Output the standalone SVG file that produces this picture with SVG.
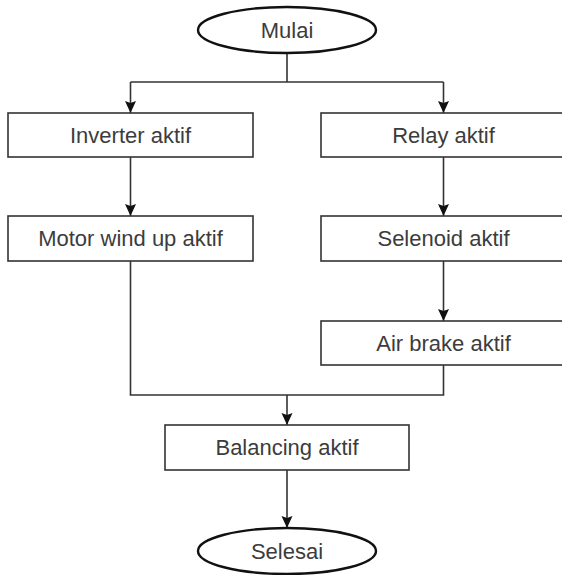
<svg xmlns="http://www.w3.org/2000/svg" width="562" height="575" viewBox="0 0 562 575">
<style>
.box{fill:#fff;stroke:#333;stroke-width:1.6}
.term{fill:#fff;stroke:#111;stroke-width:2.4}
.lbl{font-family:"Liberation Sans",Arial,sans-serif;font-size:22px;fill:#3c3c3c;text-anchor:middle}
.edge{fill:none;stroke:#333;stroke-width:1.6}
</style>
<defs>
<marker id="arr" markerUnits="userSpaceOnUse" markerWidth="12" markerHeight="12" viewBox="0 0 12 12" refX="12" refY="6" orient="auto">
<path d="M0,0.5 L12,6 L0,11.5 L2,6 Z" fill="#111"/>
</marker>
</defs>
<rect width="562" height="575" fill="#fff"/>
<g id="connectors">
<path class="edge" d="M287,53 V82"/>
<path class="edge" d="M130.5,82 H443.5"/>
<path class="edge" d="M130.5,82 V113" marker-end="url(#arr)"/>
<path class="edge" d="M443.5,82 V113" marker-end="url(#arr)"/>
<path class="edge" d="M130.5,157 V216" marker-end="url(#arr)"/>
<path class="edge" d="M443.5,157 V216" marker-end="url(#arr)"/>
<path class="edge" d="M443.5,261 V321" marker-end="url(#arr)"/>
<path class="edge" d="M130.5,261 V395 H443.5 V365"/>
<path class="edge" d="M287,395 V425" marker-end="url(#arr)"/>
<path class="edge" d="M287,470 V528" marker-end="url(#arr)"/>
</g>
<g id="mulai">
<ellipse class="term" cx="287" cy="30" rx="89" ry="23"/>
<text class="lbl" x="287" y="38">Mulai</text>
</g>
<g id="inverter">
<rect class="box" x="8" y="113" width="245" height="44"/>
<text class="lbl" x="130.5" y="143">Inverter aktif</text>
</g>
<g id="relay">
<rect class="box" x="321" y="113" width="245" height="44"/>
<text class="lbl" x="443.5" y="143">Relay aktif</text>
</g>
<g id="motor">
<rect class="box" x="8" y="216" width="245" height="45"/>
<text class="lbl" x="130.5" y="246">Motor wind up aktif</text>
</g>
<g id="selenoid">
<rect class="box" x="321" y="216" width="245" height="45"/>
<text class="lbl" x="443.5" y="246">Selenoid aktif</text>
</g>
<g id="airbrake">
<rect class="box" x="321" y="321" width="245" height="44"/>
<text class="lbl" x="443.5" y="351">Air brake aktif</text>
</g>
<g id="balancing">
<rect class="box" x="165" y="425" width="244" height="45"/>
<text class="lbl" x="287" y="455">Balancing aktif</text>
</g>
<g id="selesai">
<ellipse class="term" cx="287" cy="551" rx="89" ry="23"/>
<text class="lbl" x="287" y="559">Selesai</text>
</g>
</svg>
